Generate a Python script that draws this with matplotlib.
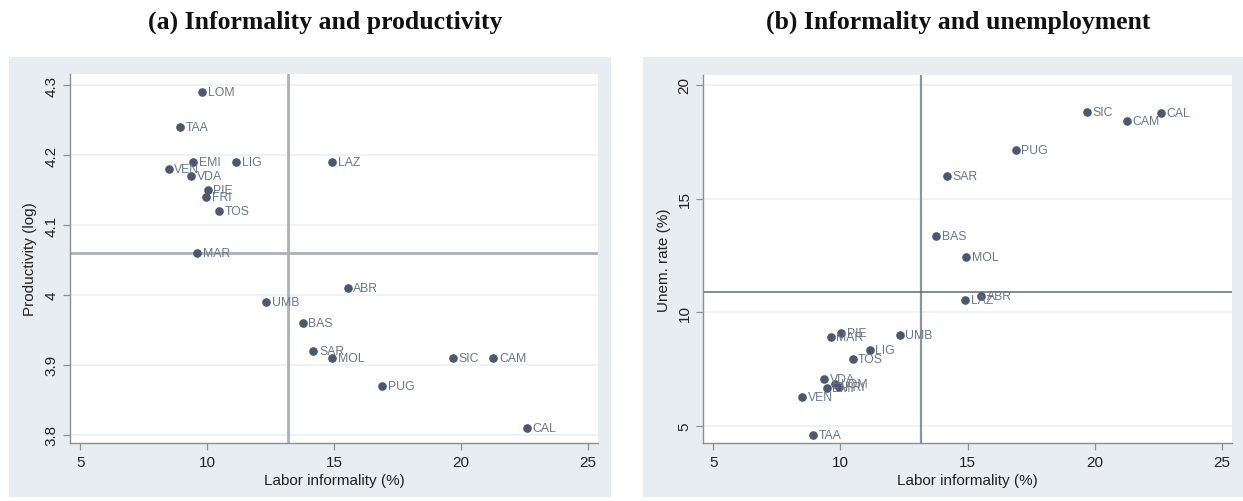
import matplotlib
matplotlib.use("Agg")
import matplotlib.pyplot as plt
import numpy as np
from matplotlib.patches import Rectangle

plt.rcParams['font.family'] = ['Liberation Sans', 'DejaVu Sans']

regions = ['LOM', 'TAA', 'EMI', 'LIG', 'VEN', 'VDA', 'PIE', 'FRI', 'TOS', 'MAR',
           'UMB', 'LAZ', 'ABR', 'BAS', 'SAR', 'MOL', 'SIC', 'CAM', 'PUG', 'CAL']
informality = [9.80, 8.93, 9.45, 11.15, 8.49, 9.37, 10.03, 9.96, 10.48, 9.62,
               12.34, 14.92, 15.54, 13.76, 14.19, 14.94, 19.70, 21.28, 16.89, 22.60]
productivity = [4.29, 4.24, 4.19, 4.19, 4.18, 4.17, 4.15, 4.14, 4.12, 4.06,
                3.99, 4.19, 4.01, 3.96, 3.92, 3.91, 3.91, 3.91, 3.87, 3.81]
unemployment = [6.84, 4.60, 6.66, 8.31, 6.28, 7.06, 9.07, 6.69, 7.94, 8.88,
                8.99, 10.54, 10.69, 13.37, 15.98, 12.41, 18.82, 18.41, 17.14, 18.75]

x_ticks = [5, 10, 15, 20, 25]
prod_ticks = [3.8, 3.9, 4.0, 4.1, 4.2, 4.3]
prod_ticklabels = ['3.8', '3.9', '4', '4.1', '4.2', '4.3']
unem_ticks = [5, 10, 15, 20]

titles = ['(a) Informality and productivity', '(b) Informality and unemployment']
xlabel = 'Labor informality (%)'
ylabels = ['Productivity (log)', 'Unem. rate (%)']

W, H = 1243, 502
fig = plt.figure(figsize=(W / 100, H / 100), dpi=100)
fig.patch.set_facecolor('white')

bg = '#e8edf2'
for (x0, x1) in [(9, 611), (643, 1243)]:
    fig.patches.append(Rectangle((x0 / W, (H - 498) / H), (x1 - x0) / W, (498 - 58) / H,
                                 transform=fig.transFigure, facecolor=bg,
                                 edgecolor='none', zorder=-5))

ax1 = fig.add_axes([70 / W, (H - 444) / H, (598 - 70) / W, (444 - 75) / H])
ax2 = fig.add_axes([703.3 / W, (H - 444.3) / H, (1231.7 - 703.3) / W, (444.3 - 76) / H])

mcol = '#4a5870'
lcol = '#6b7688'
grid_col = '#edf1f5'
spine_col = '#8a9096'

def style(ax):
    ax.set_facecolor('white')
    for s in ['top', 'right']:
        ax.spines[s].set_visible(False)
    for s in ['left', 'bottom']:
        ax.spines[s].set_color(spine_col)
        ax.spines[s].set_linewidth(1.0)
    ax.tick_params(axis='both', direction='out', length=5, width=0.9, color=spine_col,
                   labelsize=11, labelcolor='#222222')
    ax.grid(axis='y', color=grid_col, linewidth=1.2)
    ax.grid(axis='x', visible=False)
    ax.set_axisbelow(True)
    ax.set_xticks(x_ticks)
    ax.set_xlim(4.6, 25.4)
    ax.set_xlabel(xlabel, fontsize=11, color='#222222', labelpad=3)
    for lab in ax.get_yticklabels():
        lab.set_rotation(90)
        lab.set_va('center')

def scatter_labels(ax, xs, ys):
    ax.plot(xs, ys, 'o', color=mcol, markersize=5.2, zorder=3)
    for name, x, y in zip(regions, xs, ys):
        ax.annotate(name, (x, y), xytext=(4, 0), textcoords='offset points',
                    va='center', ha='left', fontsize=8.8, color=lcol, zorder=4)

# Panel (a)
scatter_labels(ax1, informality, productivity)
ax1.axvline(np.mean(informality), color='#a9b1ba', linewidth=2.0, zorder=2)
ax1.axhline(np.mean(productivity), color='#a9b1ba', linewidth=2.0, zorder=2)
ax1.set_ylim(3.788, 4.316)
ax1.set_yticks(prod_ticks)
ax1.set_yticklabels(prod_ticklabels)
style(ax1)
ax1.set_ylabel(ylabels[0], fontsize=11, color='#222222', labelpad=5)

# Panel (b)
scatter_labels(ax2, informality, unemployment)
ax2.axvline(np.mean(informality), color='#8a939e', linewidth=1.6, zorder=2)
ax2.axhline(np.mean(unemployment), color='#5f6a78', linewidth=1.1, zorder=2)
ax2.set_ylim(4.22, 20.44)
ax2.set_yticks(unem_ticks)
style(ax2)
ax2.set_ylabel(ylabels[1], fontsize=11, color='#222222', labelpad=5)

title_font = dict(family=['Liberation Serif', 'DejaVu Serif'], fontweight='bold',
                  fontsize=18.5, color='#111111', ha='center', va='center')
fig.text(325 / W, 1 - 22 / H, titles[0], **title_font)
fig.text(958 / W, 1 - 22 / H, titles[1], **title_font)

fig.savefig('out.png', dpi=100, facecolor='white')
